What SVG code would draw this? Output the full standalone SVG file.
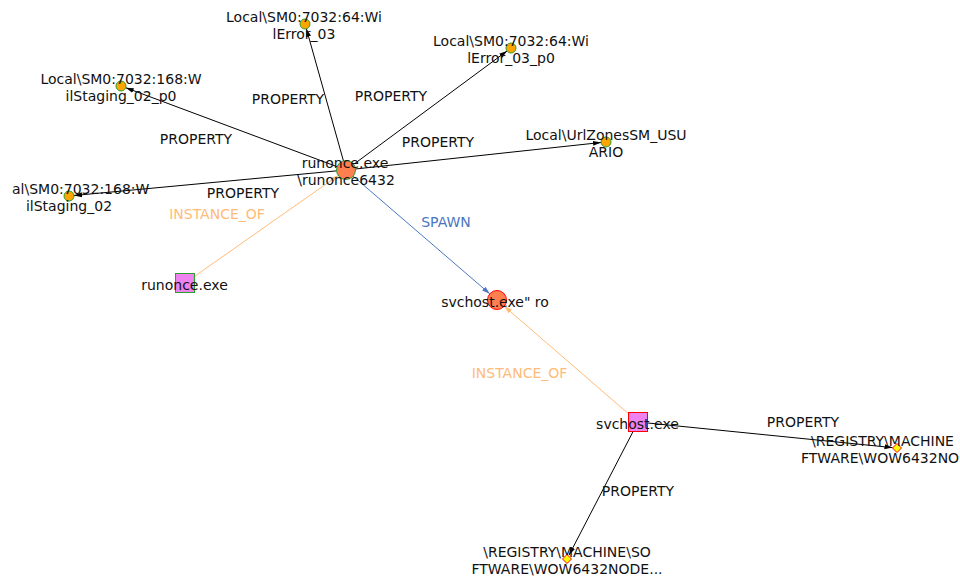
<svg xmlns="http://www.w3.org/2000/svg" width="960" height="578" viewBox="0 0 960 578">
<style>
text{font-family:"DejaVu Sans","Liberation Sans",sans-serif;font-size:14px;fill:#111;}
.lbl{text-anchor:middle;}
.prop{stroke:#000;stroke-width:1;fill:none;}
.inst{stroke:#ffbb78;stroke-width:1;fill:none;}
.spawn{stroke:#4a76c0;stroke-width:1;fill:none;}
.tinst{fill:#ffbb78;}
.tspawn{fill:#4a76c0;}
.proc{fill:#ff7f50;stroke-width:1;}
.small{fill:#ffa500;stroke:#2ca02c;stroke-width:1;}
.img{fill:#ee82ee;stroke-width:1;}
.reg{fill:#ffff00;stroke:#ff0000;stroke-width:1;}
.g{stroke:#2ca02c;}
.r{stroke:#ff0000;}
</style>
<defs>
<marker id="ab" markerUnits="userSpaceOnUse" markerWidth="9" markerHeight="6" refX="8" refY="3" orient="auto"><path d="M0,0.5 L8,3 L0,5.5 z" fill="#000"/></marker>
<marker id="ao" markerUnits="userSpaceOnUse" markerWidth="9" markerHeight="6" refX="8" refY="3" orient="auto"><path d="M0,0.5 L8,3 L0,5.5 z" fill="#ffbb78"/></marker>
<marker id="au" markerUnits="userSpaceOnUse" markerWidth="9" markerHeight="6" refX="8" refY="3" orient="auto"><path d="M0,0.5 L8,3 L0,5.5 z" fill="#4a76c0"/></marker>
</defs>
<g id="edges">
<line class="prop" x1="346" y1="170" x2="306.4" y2="28.8" marker-end="url(#ab)"/>
<line class="prop" x1="346" y1="170" x2="507" y2="51" marker-end="url(#ab)"/>
<line class="prop" x1="346" y1="170" x2="125.7" y2="87.7" marker-end="url(#ab)"/>
<line class="prop" x1="346" y1="170" x2="74" y2="195.5" marker-end="url(#ab)"/>
<line class="prop" x1="346" y1="170" x2="601" y2="142.5" marker-end="url(#ab)"/>
<line class="inst" x1="185" y1="283" x2="338.2" y2="175.5" marker-end="url(#ao)"/>
<line class="spawn" x1="346" y1="170" x2="489.8" y2="293.8" marker-end="url(#au)"/>
<line class="inst" x1="638" y1="422" x2="504.2" y2="306.2" marker-end="url(#ao)"/>
<line class="prop" x1="638" y1="422" x2="892.5" y2="447.6" marker-end="url(#ab)"/>
<line class="prop" x1="638" y1="422" x2="569.1" y2="555" marker-end="url(#ab)"/>
<text class="lbl" x="288" y="104">PROPERTY</text>
<text class="lbl" x="391" y="101">PROPERTY</text>
<text class="lbl" x="196" y="144">PROPERTY</text>
<text class="lbl" x="243" y="198">PROPERTY</text>
<text class="lbl" x="438" y="147">PROPERTY</text>
<text class="lbl tinst" x="217" y="219">INSTANCE_OF</text>
<text class="lbl tspawn" x="446" y="227">SPAWN</text>
<text class="lbl tinst" x="519.5" y="378">INSTANCE_OF</text>
<text class="lbl" x="803" y="427">PROPERTY</text>
<text class="lbl" x="638" y="496">PROPERTY</text>
</g>
<g id="node-runonce-proc"><circle class="proc g" cx="346" cy="170" r="9.5"/><text class="lbl" x="345" y="167.5">runonce.exe</text><text class="lbl" x="346" y="184.5">\runonce6432</text></g>
<g id="node-wilerror03"><circle class="small" cx="305" cy="24" r="5"/><text class="lbl" x="304" y="22">Local\SM0:7032:64:Wi</text><text class="lbl" x="304" y="39">lError_03</text></g>
<g id="node-wilerror03p0"><circle class="small" cx="511" cy="48" r="5"/><text class="lbl" x="511" y="46">Local\SM0:7032:64:Wi</text><text class="lbl" x="511" y="63">lError_03_p0</text></g>
<g id="node-wilstaging02p0"><circle class="small" cx="121" cy="86" r="5"/><text class="lbl" x="121" y="84">Local\SM0:7032:168:W</text><text class="lbl" x="121" y="101">ilStaging_02_p0</text></g>
<g id="node-wilstaging02"><circle class="small" cx="69" cy="196" r="5"/><text x="12" y="194">al\SM0:7032:168:W</text><text class="lbl" x="69" y="211">ilStaging_02</text></g>
<g id="node-urlzones"><circle class="small" cx="606" cy="142" r="5"/><text class="lbl" x="606" y="140">Local\UrlZonesSM_USU</text><text class="lbl" x="606" y="157">ARIO</text></g>
<g id="node-runonce-img"><rect class="img g" x="175.5" y="273.5" width="19" height="19"/><text class="lbl" x="184.5" y="289.5">runonce.exe</text></g>
<g id="node-svchost-proc"><circle class="proc r" cx="497" cy="300" r="9.5"/><text class="lbl" x="495" y="306.5">svchost.exe" ro</text></g>
<g id="node-svchost-img"><rect class="img r" x="628.5" y="412.5" width="19" height="19"/><text class="lbl" x="637.5" y="428.5">svchost.exe</text></g>
<g id="node-reg-right"><path class="reg" d="M897,443.5 L901.5,448 L897,452.5 L892.5,448 z"/><text x="811" y="446">\REGISTRY\MACHINE</text><text x="801" y="463">FTWARE\WOW6432NO</text></g>
<g id="node-reg-bottom"><path class="reg" d="M567,554.5 L571.5,559 L567,563.5 L562.5,559 z"/><text class="lbl" x="567" y="557">\REGISTRY\MACHINE\SO</text><text class="lbl" x="567" y="574">FTWARE\WOW6432NODE...</text></g>
</svg>
